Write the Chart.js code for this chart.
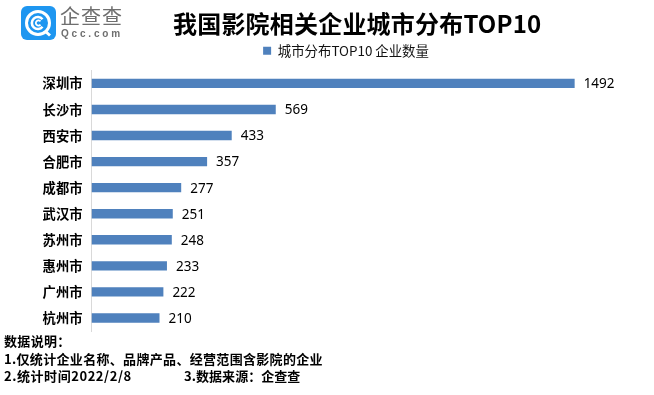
<!DOCTYPE html>
<html>
<head>
<meta charset="utf-8">
<script src="https://cdn.jsdelivr.net/npm/chart.js@4/dist/chart.umd.min.js"></script>
<style>
  html, body { margin: 0; padding: 0; background: #fff; }
  #wrap { position: relative; width: 654px; height: 395px; overflow: hidden; font-family: "Noto Sans CJK SC", sans-serif; }
  #wrap canvas { position: absolute; left: 0; top: 0; }
  .txt { position: absolute; white-space: nowrap; color: #000; }
  #title { left: 173px; top: 5px; font-size: 24px; line-height: 36px; font-weight: 700; letter-spacing: 0.2px; }
  #logoCn { left: 60px; top: 0px; font-size: 20px; line-height: 32px; letter-spacing: 1px; color: #6f6f6f; }
  #logoEn { left: 61px; top: 27px; font-size: 10px; line-height: 14px; letter-spacing: 2.8px; color: #6f6f6f; font-family: "Liberation Sans", sans-serif; font-weight: 700; }
  .note { left: 4px; font-size: 13px; line-height: 18px; font-weight: 700; letter-spacing: 0.32px; }
</style>
</head>
<body>
<div id="wrap">
  <canvas id="cityChart" width="654" height="395"></canvas>
  <svg style="position:absolute;left:21px;top:6px" width="35" height="35" viewBox="0 0 35 35">
    <rect x="0" y="0" width="35" height="34" rx="6" fill="#1e96f0"/>
    <circle cx="17" cy="17" r="11.5" fill="none" stroke="#fff" stroke-width="3"/>
    <path d="M21.5 13.2 A6 6 0 1 0 21.5 20.8" fill="none" stroke="#fff" stroke-width="2.6"/>
    <path d="M19.5 15.4 A2.6 2.6 0 1 0 19.5 18.6" fill="none" stroke="#fff" stroke-width="1.8"/>
    <path d="M24 25 L29 29.5" stroke="#fff" stroke-width="3"/>
  </svg>
  <div class="txt" id="logoCn">企查查</div>
  <div class="txt" id="logoEn">Qcc.com</div>
  <div class="txt" id="title">我国影院相关企业城市分布TOP10</div>
  <div class="txt note" style="top:332px">数据说明：</div>
  <div class="txt note" style="top:350px">1.仅统计企业名称、品牌产品、经营范围含影院的企业</div>
  <div class="txt note" style="top:367px;letter-spacing:0.55px">2.统计时间2022/2/8</div>
  <div class="txt note" style="top:367px;left:184px;letter-spacing:0.05px">3.数据来源：企查查</div>
</div>
<script>
const cities = ['深圳市', '长沙市', '西安市', '合肥市', '成都市', '武汉市', '苏州市', '惠州市', '广州市', '杭州市'];
const companyCounts = [1492, 569, 433, 357, 277, 251, 248, 233, 222, 210];
const seriesName = '城市分布TOP10 企业数量';

// value labels at the end of each bar
const barValues = {
  id: 'barValues',
  afterDatasetsDraw(chart) {
    const ctx = chart.ctx;
    const meta = chart.getDatasetMeta(0);
    ctx.save();
    ctx.font = '13.5px "Noto Sans", sans-serif';
    ctx.fillStyle = '#000';
    ctx.textBaseline = 'middle';
    meta.data.forEach((bar, i) => {
      ctx.fillText(companyCounts[i], bar.x + 9, bar.y + 1);
    });
    ctx.restore();
  }
};

// legend sits right of the page centre and a little higher in the original
const shiftLegend = {
  id: 'shiftLegend',
  afterLayout(chart) {
    chart.legend.left += 25;
    chart.legend.right += 25;
    chart.legend.top -= 3;
    chart.legend.bottom -= 3;
  }
};

new Chart(document.getElementById('cityChart').getContext('2d'), {
  type: 'bar',
  data: {
    labels: cities,
    datasets: [{
      label: seriesName,
      data: companyCounts,
      backgroundColor: '#4f81bd',
      categoryPercentage: 1,
      barPercentage: 0.36
    }]
  },
  options: {
    indexAxis: 'y',
    responsive: false,
    animation: false,
    layout: { padding: { left: 0, right: 12, top: 36, bottom: 64 } },
    plugins: {
      title: { display: false },
      tooltip: { enabled: false },
      legend: {
        display: true,
        position: 'top',
        labels: {
          boxWidth: 8,
          boxHeight: 8,
          padding: 11,
          color: '#111',
          font: { size: 13.4, family: '"Noto Sans CJK SC", sans-serif' }
        }
      }
    },
    scales: {
      x: { display: false, min: 0, max: 1700 },
      y: {
        afterFit(axis) { axis.width = 91.5; },
        grid: { display: false, drawTicks: false },
        border: { color: '#d9d9d9', width: 1 },
        ticks: {
          color: '#000',
          padding: 9,
          font: { size: 13.3, weight: 'bold', family: '"Noto Sans CJK SC", sans-serif' }
        }
      }
    }
  },
  plugins: [barValues, shiftLegend]
});
</script>
</body>
</html>
